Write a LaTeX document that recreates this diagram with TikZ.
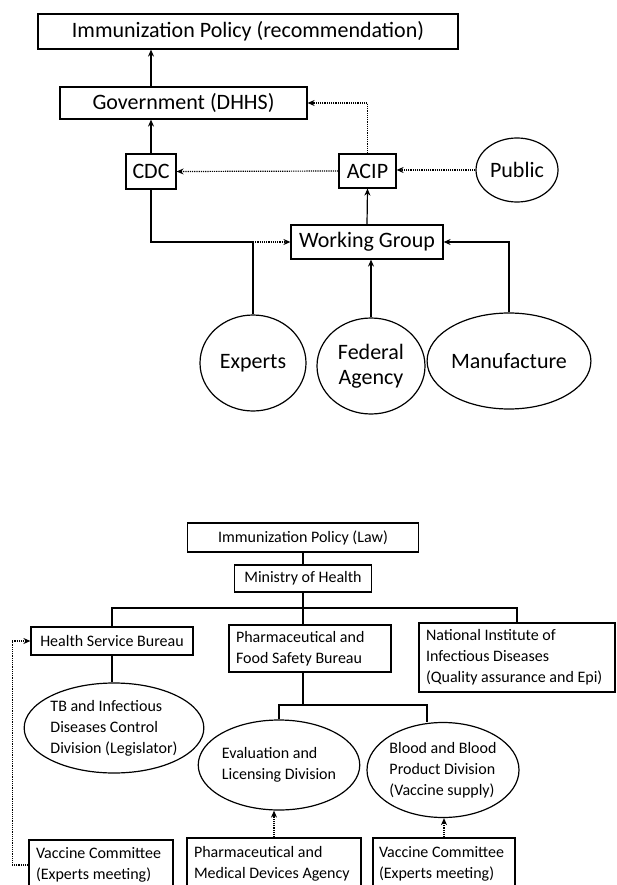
\documentclass[tikz,border=0pt]{standalone}
\usepackage{fontspec}
\setmainfont{Carlito}
\usetikzlibrary{shapes.geometric,arrows.meta}

\begin{document}
\begin{tikzpicture}
  [x = 1pt, y = -1pt, >= {Stealth[length = 7pt, width = 6pt]}, line width = 1.2pt,
   big/.style = {font = \fontsize{22}{25}\selectfont},
   small/.style = {font = \fontsize{16}{21}\selectfont},
   box/.style = {draw, rectangle, inner sep = 0pt},
   lbox/.style = {draw, rectangle, align = flush left, inner xsep = 7pt, inner ysep = 0pt},
   oval/.style = {draw, ellipse, inner sep = 0pt},
   dots/.style = {densely dotted}]
  \useasboundingbox (0,0) rectangle (616,885);
  % recommendation (top)
  \node[box, big, minimum width = 420pt, minimum height = 35pt] (pol) at (248,31.5) {Immunization Policy (recommendation)};
  \node[box, big, minimum width = 247pt, minimum height = 32pt] (gov) at (183.5,103) {Government (DHHS)};
  \node[box, big, minimum width = 50pt, minimum height = 35pt] (cdc) at (151,171.5) {CDC};
  \node[box, big, minimum width = 57pt, minimum height = 34pt] (acip) at (367.5,171) {ACIP};
  \node[oval, big, minimum width = 82pt, minimum height = 64pt] (public) at (517,170) {Public};
  \node[box, big, minimum width = 152pt, minimum height = 34pt] (wg) at (367,242) {Working Group};
  \node[oval, big, minimum width = 106pt, minimum height = 96pt] (experts) at (253,363) {Experts};
  \node[oval, big, align = center, minimum width = 108pt, minimum height = 96pt] (fed) at (371,366) {Federal\\Agency};
  \node[oval, big, minimum width = 134pt, minimum height = 96pt] (manu) at (509,361) {Manufacture};
  \draw[->] (cdc.north) -- (cdc.north |- gov.south);
  \draw[->] (cdc.north |- gov.north) -- (cdc.north |- pol.south);
  \draw[->, dots] (acip.north) |- (gov.east);
  \draw[->, dots] (acip.west) -- (cdc.east);
  \draw[->, dots] (public.west) -- (public.west -| acip.east);
  \draw[->] (wg.north) -- (acip.south);
  \coordinate (jn) at (experts.north |- wg.west);
  \draw (cdc.south) |- (jn) -- (experts.north);
  \draw[->, dots] (jn) -- (wg.west);
  \draw[->] (fed.north) -- (fed.north |- wg.south);
  \draw[->] (manu.north) |- (wg.east);
  % law (bottom)
  \node[box, small, minimum width = 231pt, minimum height = 29pt] (law) at (303,537.5) {Immunization Policy (Law)};
  \node[box, small, minimum width = 137pt, minimum height = 27pt] (moh) at (303,578.5) {Ministry of Health};
  \node[box, small, minimum width = 162pt, minimum height = 28pt] (hsb) at (112,641) {Health Service Bureau};
  \node[lbox, small, text width = 148pt, minimum height = 47pt] (pfsb) at (310,648.5) {Pharmaceutical and\\Food Safety Bureau};
  \node[lbox, small, text width = 182pt, minimum height = 69pt] (ni) at (517,657.5) {National Institute of\\Infectious Diseases\\(Quality assurance and Epi)};
  \node[oval, small, align = left, minimum width = 158pt, minimum height = 90pt] (tb) at (114,728) {TB and Infectious\\Diseases Control\\Division (Legislator)};
  \node[oval, small, align = left, minimum width = 144pt, minimum height = 90pt] (eval) at (279,765) {Evaluation and\\Licensing Division};
  \node[oval, small, align = left, minimum width = 152pt, minimum height = 95pt] (blood) at (443,770) {Blood and Blood\\Product Division\\(Vaccine supply)};
  \node[lbox, small, text width = 130pt, minimum height = 50pt] (vc1) at (101,865) {Vaccine Committee\\(Experts meeting)};
  \node[lbox, small, text width = 160pt, minimum height = 52pt] (pmda) at (274,864) {Pharmaceutical and\\Medical Devices Agency};
  \node[lbox, small, inner xsep = 6pt, text width = 130pt, minimum height = 52pt] (vc2) at (444,864) {Vaccine Committee\\(Experts meeting)};
  \coordinate (b1) at (303,608);
  \coordinate (b2) at (303,705);
  \draw (law.south) -- (moh.north);
  \draw (moh.south) -- (moh.south |- pfsb.north);
  \draw (hsb.north) |- (b1) -| (ni.north);
  \draw (hsb.south) -- (hsb.south |- tb.north);
  \draw (pfsb.south -| b2) -- (b2);
  \draw (eval.north) |- (b2) -| ([xshift=-16pt]blood.north);
  \draw[->, dots] (pmda.north) -- (pmda.north |- eval.south);
  \draw[->, dots] (vc2.north) -- (vc2.north |- blood.south);
  \draw[->, dots] (vc1.west) -- ++(-16,0) |- (hsb.west);
\end{tikzpicture}
\end{document}
